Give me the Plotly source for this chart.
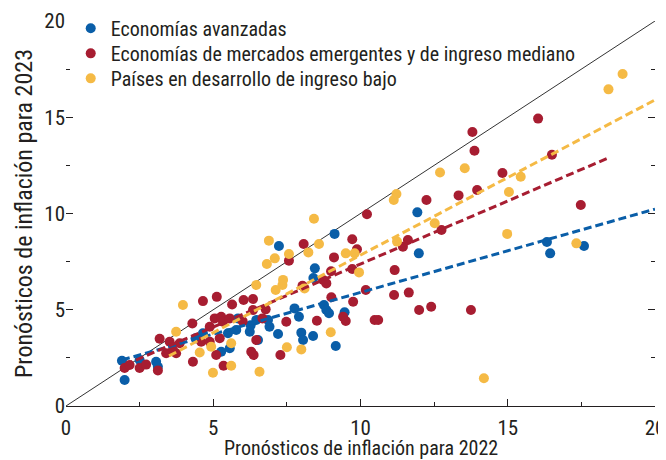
import plotly.graph_objects as go

# Economías avanzadas
adv_x = [1.90, 1.99, 2.50, 3.06, 3.12, 4.40, 4.65, 5.27, 5.56, 5.50, 5.78, 5.84, 6.24, 6.27,
         6.46, 6.52, 6.86, 6.91, 7.20, 7.23, 7.76, 7.91, 7.99, 8.05, 8.39, 8.45, 8.40, 8.76,
         8.84, 8.93, 9.12, 9.16, 9.46, 11.93, 11.98, 16.33, 16.44, 17.59]
adv_y = [2.35, 1.35, 2.39, 2.30, 2.04, 3.52, 3.78, 2.82, 3.00, 3.78, 3.95, 4.55, 3.86, 4.19,
         4.47, 3.43, 4.47, 4.12, 3.74, 8.31, 5.07, 4.64, 3.81, 3.43, 3.64, 7.15, 6.65, 5.25,
         4.99, 4.82, 8.94, 3.12, 4.87, 10.06, 7.93, 8.52, 7.93, 8.31]

# Economías de mercados emergentes y de ingreso mediano
emk_x = [1.99, 2.16, 2.50, 2.72, 3.12, 3.18, 3.40, 3.52, 3.74, 3.86, 3.63, 4.29, 4.31, 4.59,
         4.88, 4.65, 5.12, 5.64, 6.03, 6.35, 4.88, 5.05, 5.27, 5.33, 5.56, 5.10, 5.22, 5.35,
         6.29, 6.37, 6.46, 6.35, 6.78, 6.67, 6.00, 7.28, 7.48, 7.57, 8.07, 8.73, 8.84, 8.03,
         9.10, 9.00, 9.72, 9.88, 9.72, 10.22, 10.18, 9.01, 9.75, 8.52, 9.41, 9.50, 10.48, 10.60,
         11.16, 11.14, 11.64, 11.99, 12.40, 11.61, 11.44, 12.24, 12.75, 13.33, 13.96, 13.80,
         13.87, 14.82, 16.03, 16.50, 17.48, 13.75]
emk_y = [1.97, 2.13, 1.97, 2.15, 1.85, 3.49, 2.74, 3.34, 2.74, 3.26, 2.91, 4.29, 2.30, 3.34,
         3.34, 5.45, 5.67, 5.27, 5.51, 5.56, 4.12, 4.55, 4.64, 4.38, 4.55, 2.65, 3.52, 2.09,
         2.82, 2.65, 3.43, 4.99, 5.02, 4.55, 4.40, 2.65, 4.38, 7.55, 8.42, 6.55, 6.37, 6.25,
         7.72, 7.00, 8.66, 8.14, 7.12, 9.96, 6.03, 5.65, 5.42, 4.43, 4.64, 4.42, 4.47, 4.47,
         7.06, 5.77, 5.89, 4.99, 5.16, 8.62, 8.27, 10.70, 9.14, 10.94, 11.22, 14.23,
         13.26, 12.10, 14.93, 13.05, 10.44, 4.99]

# Países en desarrollo de ingreso bajo
lic_x = [3.74, 3.97, 4.54, 4.93, 4.99, 5.61, 5.61, 6.46, 6.57, 6.82, 6.89, 7.09, 7.12, 7.35,
         7.37, 7.50, 7.57, 7.99, 8.23, 8.10, 8.42, 8.59, 8.99, 9.50, 9.80, 9.95, 11.24, 11.22,
         11.13, 12.52, 12.70, 13.54, 15.44, 15.04, 14.98, 17.33, 18.42, 18.90, 14.19]
lic_y = [3.86, 5.25, 2.78, 3.08, 1.73, 2.09, 3.26, 6.29, 1.78, 7.38, 8.59, 7.67, 6.03, 6.29,
         6.55, 3.05, 7.90, 2.94, 7.98, 6.11, 9.73, 8.42, 3.83, 7.93, 7.93, 6.94, 8.54, 11.01,
         10.70, 9.49, 12.13, 12.35, 11.91, 11.12, 8.94, 8.45, 16.45, 17.25, 1.44]

# tendencias lineales (extremos)
trend_x = {"adv": [1.90, 20.0], "emk": [2.00, 18.48], "lic": [3.50, 20.0]}
trend_y = {"adv": [2.39, 10.23], "emk": [2.14, 12.93], "lic": [2.60, 15.90]}

names = ["Economías avanzadas",
         "Economías de mercados emergentes y de ingreso mediano",
         "Países en desarrollo de ingreso bajo"]
colors = ["#0A5EA8", "#A71D31", "#F5BA45"]
legend_ids = ["legend", "legend2", "legend3"]
legend_rows = [0.981, 0.916, 0.851]

FONT = "Roboto Condensed, Liberation Sans, sans-serif"
INK = "#231F20"

fig = go.Figure()

# línea de 45 grados
fig.add_trace(go.Scatter(x=[0, 20], y=[0, 20], mode="lines",
                         line=dict(color="#333333", width=1), showlegend=False, hoverinfo="skip"))

for xs, ys, name, col, lg in zip([adv_x, emk_x, lic_x], [adv_y, emk_y, lic_y], names, colors, legend_ids):
    fig.add_trace(go.Scatter(x=xs, y=ys, mode="markers", name=name, legend=lg,
                             marker=dict(color=col, size=10, line=dict(width=0))))

for key, col in zip(["adv", "emk", "lic"], colors):
    fig.add_trace(go.Scatter(x=trend_x[key], y=trend_y[key], mode="lines",
                             line=dict(color=col, width=3, dash="8px,4px"),
                             showlegend=False, hoverinfo="skip"))

# la página añade 8 px de margen al cuerpo: el lienzo se reduce en la misma medida
fig.update_layout(
    width=658, height=452,
    margin=dict(l=58, r=11, t=13, b=54, autoexpand=False),
    paper_bgcolor="white", plot_bgcolor="white",
    font=dict(family=FONT, size=20, color=INK),
    showlegend=True,
    xaxis=dict(range=[0, 20], dtick=5, showgrid=False, zeroline=False, automargin=False,
               showline=True, linecolor=INK, linewidth=1,
               ticks="inside", ticklen=7, tickcolor=INK, ticklabeloverflow="allow",
               tickfont=dict(size=21), ticklabelstandoff=3,
               minor=dict(dtick=2.5, ticks="inside", ticklen=4, tickcolor=INK)),
    yaxis=dict(range=[0, 20], dtick=5, showgrid=False, zeroline=False, automargin=False,
               showline=False, mirror="ticks",
               ticks="inside", ticklen=7, tickcolor=INK, tickfont=dict(size=21),
               minor=dict(dtick=2.5, ticks="inside", ticklen=4, tickcolor=INK),
               title=dict(text="Pronósticos de inflación para 2023", standoff=4)),
)
# título del eje x, bajo las etiquetas y pegado al borde inferior como en el original
fig.add_annotation(text="Pronósticos de inflación para 2022", xref="paper", yref="paper",
                   x=0.5, y=-0.110, xanchor="center", yanchor="middle", showarrow=False,
                   font=dict(size=20))
for lg, row in zip(legend_ids, legend_rows):
    fig.update_layout({lg: dict(x=0.008, y=row, xanchor="left", yanchor="middle",
                                font=dict(size=20), bgcolor="rgba(0,0,0,0)",
                                itemsizing="trace")})

fig.write_html("out.html")
